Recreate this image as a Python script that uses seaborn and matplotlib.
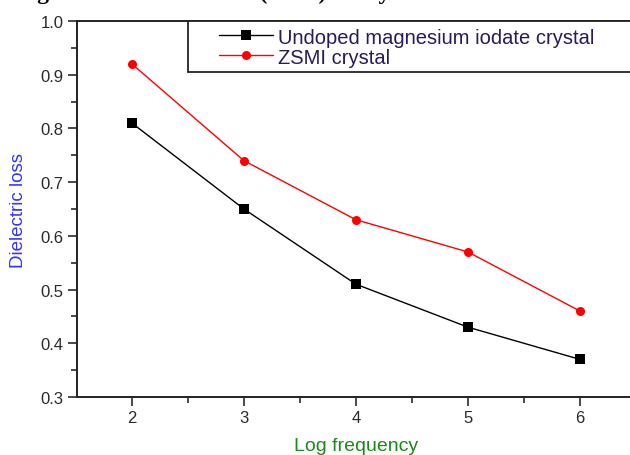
import matplotlib
matplotlib.use("Agg")
import matplotlib.pyplot as plt
import seaborn as sns
import pandas as pd
from matplotlib.ticker import MultipleLocator
from matplotlib.patches import Rectangle

log_freq = [2, 3, 4, 5, 6]
undoped = [0.81, 0.65, 0.51, 0.43, 0.37]
zsmi = [0.92, 0.74, 0.63, 0.57, 0.46]
series_names = ["Undoped magnesium iodate crystal", "ZSMI crystal"]
y_ticks = [0.3, 0.4, 0.5, 0.6, 0.7, 0.8, 0.9, 1.0]
y_tick_labels = ["0.3", "0.4", "0.5", "0.6", "0.7", "0.8", "0.9", "1.0"]

df = pd.DataFrame({
    "Log frequency": log_freq * 2,
    "Dielectric loss": undoped + zsmi,
    "series": [series_names[0]] * len(log_freq) + [series_names[1]] * len(log_freq),
})

sns.set_theme(style="ticks")
plt.rcParams["font.family"] = ["Liberation Sans", "DejaVu Sans"]

W, H = 630, 456
fig = plt.figure(figsize=(W / 100, H / 100), dpi=100)
x0, x1 = 77 / W, 636 / W
y0, y1 = (H - 398) / H, (H - 22) / H
ax = fig.add_axes([x0, y0, x1 - x0, y1 - y0])

sns.lineplot(data=df, x="Log frequency", y="Dielectric loss", hue="series",
             style="series", markers={series_names[0]: "s", series_names[1]: "o"},
             dashes=False, palette={series_names[0]: "black", series_names[1]: "red"},
             markersize=6.5, linewidth=1.0, markeredgewidth=0, ax=ax)

ax.set_xlim(1.51, 6.5)
ax.set_ylim(0.3, 1.0)
ax.xaxis.set_major_locator(MultipleLocator(1))
ax.xaxis.set_minor_locator(MultipleLocator(0.5))
ax.set_yticks(y_ticks)
ax.set_yticklabels(y_tick_labels)
ax.yaxis.set_minor_locator(MultipleLocator(0.05))
ax.tick_params(which="major", direction="out", length=6.5, width=1.2, labelsize=12,
               colors="#2a2a2a", pad=3)
ax.tick_params(which="minor", direction="out", length=4, width=1.2, colors="#2a2a2a")
for s in ax.spines.values():
    s.set_linewidth(1.4)
    s.set_color("#222222")

ax.set_xlabel("Log frequency", color="#1a8a1a", fontsize=14, labelpad=8.5)
ax.set_ylabel("Dielectric loss", color="#3333ff", fontsize=13.5, labelpad=9.5)

def ax_x(px):
    return (px - 77) / (636 - 77)

def ax_y(py):
    return (398 - py) / (398 - 22)

frame = Rectangle((ax_x(188), ax_y(73)), ax_x(660) - ax_x(188), ax_y(22) - ax_y(73),
                  transform=ax.transAxes, fill=True, facecolor="white",
                  edgecolor="#222222", linewidth=1.3, clip_on=False, zorder=5)
ax.add_patch(frame)

leg = ax.legend(loc="upper left", bbox_to_anchor=(ax_x(219), ax_y(28.5)),
                borderaxespad=0, borderpad=0, frameon=False,
                fontsize=14.5, handlelength=2.7, handletextpad=0.25,
                labelspacing=0.05, title=None)
leg.set_zorder(6)
for txt in leg.get_texts():
    txt.set_color("#2a1a5a")

fig.text(16 / W, (H + 1) / H, "Figure 8: Dielectric loss (tan δ) of crystals", fontsize=17,
         fontweight="bold", family="Liberation Serif", va="baseline", ha="left", color="black")

fig.savefig("out.png", dpi=100)
